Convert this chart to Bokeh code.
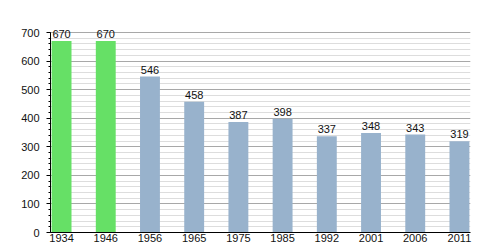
from bokeh.plotting import figure
from bokeh.models import Range1d, FixedTicker, ColumnDataSource
from bokeh.embed import file_html
from bokeh.resources import INLINE
from bokeh.core.properties import value

years = ["1934", "1946", "1956", "1965", "1975", "1985", "1992", "2001", "2006", "2011"]
population = [670, 670, 546, 458, 387, 398, 337, 348, 343, 319]
bar_colors = ["#66e066", "#66e066", "#98b2cc", "#98b2cc", "#98b2cc", "#98b2cc",
              "#98b2cc", "#98b2cc", "#98b2cc", "#98b2cc"]
major_ticks = [0, 100, 200, 300, 400, 500, 600, 700]
minor_ticks = list(range(0, 701, 20))

idx = list(range(len(years)))
src = ColumnDataSource(dict(x=idx, top=population, color=bar_colors,
                            label=[str(v) for v in population]))

p = figure(width=500, height=250, output_backend="svg", toolbar_location=None,
           x_range=Range1d(-0.25, len(years) - 0.75), y_range=Range1d(0, 742),
           min_border_left=50, min_border_right=30, min_border_top=20, min_border_bottom=18)
p.outline_line_color = None
p.background_fill_color = "white"

p.vbar(x="x", top="top", width=0.45, color="color", source=src, line_color=None)
p.text(x="x", y="top", text="label", source=src, text_align="center",
       text_baseline="bottom", y_offset=-3, text_font=value("Liberation Sans"),
       text_font_size="11px", text_color="#111111")

ticker = FixedTicker(ticks=major_ticks, minor_ticks=minor_ticks)
p.yaxis.ticker = ticker
p.ygrid.ticker = ticker
p.xgrid.grid_line_color = None
p.ygrid.grid_line_color = "#a8a8a8"
p.ygrid.minor_grid_line_color = "#dddddd"
p.yaxis.bounds = (0, 700)

p.xaxis.ticker = FixedTicker(ticks=idx)
p.xaxis.major_label_overrides = {i: y for i, y in enumerate(years)}
p.xaxis.major_tick_line_color = None
p.xaxis.minor_tick_line_color = None
p.xaxis.major_tick_out = 0
p.xaxis.major_tick_in = 0
p.xaxis.major_label_standoff = 1

for ax in (p.xaxis, p.yaxis):
    ax.axis_line_color = "black"
    ax.major_label_text_font = "Liberation Sans"
    ax.major_label_text_font_size = "11px"
    ax.major_label_text_color = "#111111"

p.yaxis.major_tick_out = 4
p.yaxis.major_tick_in = 0
p.yaxis.minor_tick_out = 2
p.yaxis.minor_tick_in = 0
p.yaxis.major_label_standoff = 7

open("out.html", "w").write(file_html(p, INLINE))
